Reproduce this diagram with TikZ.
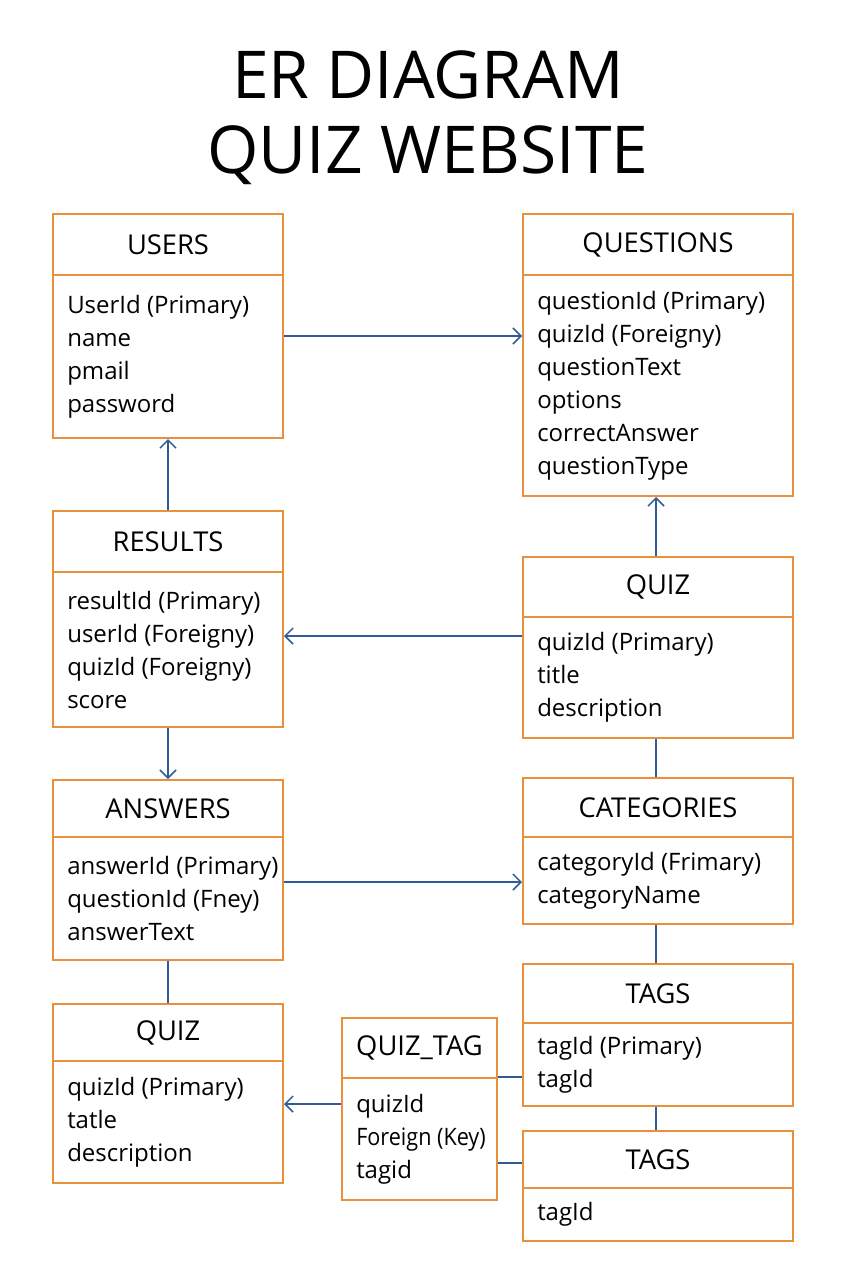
\documentclass[tikz,border=0pt]{standalone}
\usepackage{fontspec}
\setmainfont{Open Sans}
\newfontfamily\titlefont{Open Sans}
\usetikzlibrary{arrows.meta}
\definecolor{frameor}{HTML}{E8913A}
\definecolor{linkblue}{HTML}{2F5C99}
\tikzset{
  hdr/.style={draw=frameor, line width=1.5pt, anchor=north west, inner sep=0pt, font=\fontsize{20.5}{24}\selectfont},
  bdy/.style={draw=frameor, line width=1.5pt, anchor=north west, inner sep=0pt},
  btxt/.style={anchor=west, inner sep=0pt, align=left, font=\fontsize{18}{24.75}\selectfont},
  ttl/.style={font=\titlefont\fontsize{49.5}{60}\selectfont},
  rel/.style={draw=linkblue, line width=1.1pt},
  arr/.style={rel, -{Straight Barb[length=6pt,width=12pt,line width=1.1pt]}},
}
% \entitybox{name}{x1}{y1}{x2}{ysep}{y2}{title}{body}
\newcommand{\entitybox}[8]{%
  \node[hdr, minimum width={(#4-#2)*0.75pt}, minimum height={(#5-#3)*0.75pt}] (#1-h) at (#2,#3) {#7};
  \node[bdy, minimum width={(#4-#2)*0.75pt}, minimum height={(#6-#5)*0.75pt}] (#1) at (#2,#5) {};
  \node[btxt] (#1-t) at ([xshift=11.25pt]#1.west) {#8};
}
\begin{document}
\begin{tikzpicture}[x=0.75pt,y=-0.75pt]
\useasboundingbox[fill=white] (0,0) rectangle (853,1280);
\node[ttl] (t1) at (428,75) {ER DIAGRAM};
\node[ttl] (t2) at (428,155) {QUIZ WEBSITE};

\entitybox{users}{52}{213}{282}{274}{437}{USERS}{UserId (Primary)\\name\\pmail\\password}
\entitybox{questions}{522}{213}{792}{274}{495}{QUESTIONS}{questionId (Primary)\\quizId (Foreigny)\\questionText\\options\\correctAnswer\\questionType}
\entitybox{results}{52}{510}{282}{571}{726}{RESULTS}{resultId (Primary)\\userId (Foreigny)\\quizId (Foreigny)\\score}
\entitybox{quizr}{522}{556}{792}{616}{737}{QUIZ}{quizId (Primary)\\title\\description}
\entitybox{answers}{52}{779}{282}{836}{959}{ANSWERS}{answerId (Primary)\\questionId (Fney)\\answerText}
\entitybox{categories}{522}{777}{792}{836}{923}{CATEGORIES}{categoryId (Frimary)\\categoryName}
\entitybox{tagsa}{522}{963}{792}{1022}{1105}{TAGS}{tagId (Primary)\\tagId}
\entitybox{quizl}{52}{1003}{282}{1060}{1182}{QUIZ}{quizId (Primary)\\tatle\\description}
\entitybox{quiztag}{341}{1017}{496}{1077}{1199}{QUIZ\_TAG}{quizId\\\scalebox{0.9}[1]{Foreign (Key)}\\tagid}
\entitybox{tagsb}{522}{1130}{792}{1187}{1240}{TAGS}{tagId}

\draw[arr] (users.east |- 0,336) -- (questions.west |- 0,336);
\draw[arr] (results-h.north) -- (users.south);
\draw[arr] (quizr-h.north -| 656,0) -- (questions.south -| 656,0);
\draw[arr] (quizr.west |- 0,636) -- (results.east |- 0,636);
\draw[arr] (results.south) -- (answers-h.north);
\draw[rel] (quizr.south -| 656,0) -- (categories-h.north -| 656,0);
\draw[arr] (answers.east |- 0,882) -- (categories.west |- 0,882);
\draw[rel] (categories.south -| 656,0) -- (tagsa-h.north -| 656,0);
\draw[rel] (answers.south) -- (quizl-h.north);
\draw[arr] (quiztag.west |- 0,1104) -- (quizl.east |- 0,1104);
\draw[rel] (quiztag.east |- 0,1077) -- (tagsa.west |- 0,1077);
\draw[rel] (quiztag.east |- 0,1163) -- (tagsb.west |- 0,1163);
\draw[rel] (tagsa.south -| 656,0) -- (tagsb-h.north -| 656,0);
\end{tikzpicture}
\end{document}
